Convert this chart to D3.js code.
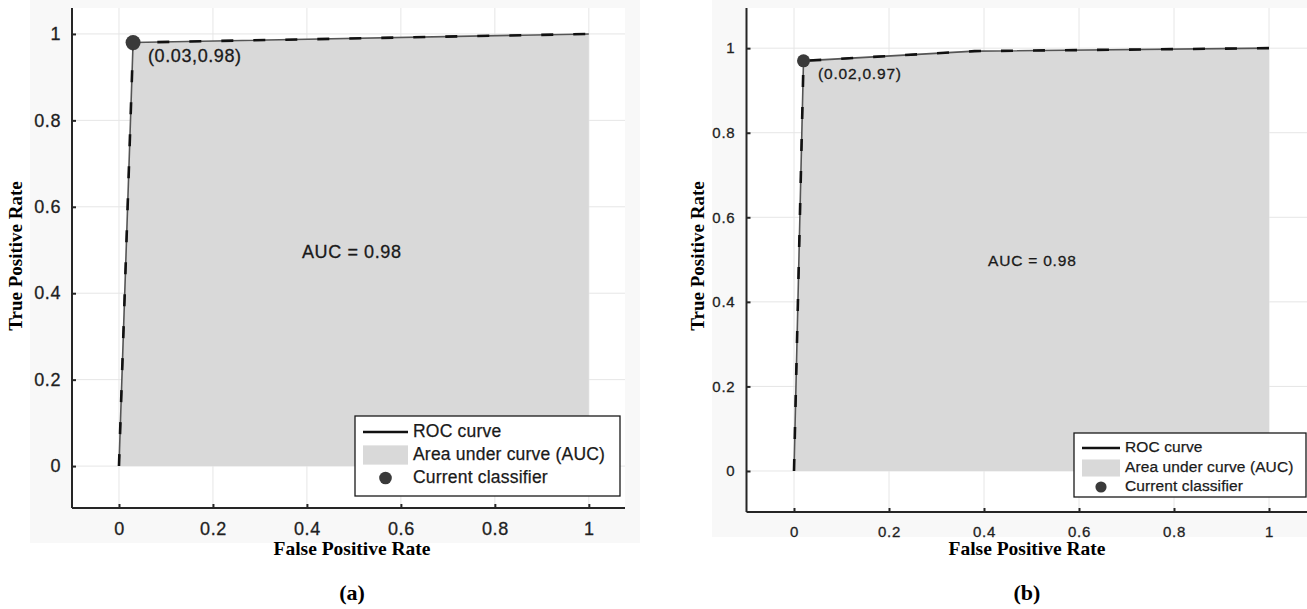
<!DOCTYPE html>
<html>
<head>
<meta charset="utf-8">
<script src="https://cdn.jsdelivr.net/npm/d3@7"></script>
<style>
  body { margin: 0; background: #fff; }
  svg { display: block; }
</style>
</head>
<body>
<svg id="chart" width="1307" height="609"></svg>
<script>
// values
const tickValues = [0, 0.2, 0.4, 0.6, 0.8, 1];
const rocA_fpr = [0, 0.03, 1];
const rocA_tpr = [0, 0.98, 1];
const rocB_fpr = [0, 0.02, 0.38, 1];
const rocB_tpr = [0, 0.97, 0.993, 1];
const classifierA = [0.03, 0.98];
const classifierB = [0.02, 0.97];
const aucValues = [0.98, 0.98];
const legendLabels = ["ROC curve", "Area under curve (AUC)", "Current classifier"];
const panelLabels = ["(a)", "(b)"];

const svg = d3.select("#chart");
const SANS = "Liberation Sans, Arial, sans-serif";
const SERIF = "Liberation Serif, Times New Roman, serif";

const panels = [
  {
    fpr: rocA_fpr, tpr: rocA_tpr, cls: classifierA, auc: aucValues[0], tag: panelLabels[0],
    xRange: [72, 625], xDom: [-0.1, 1.077], yRange: [508, 8], yDom: [-0.097, 1.06],
    bg: [30, 0, 610, 543], tickFont: 18, ls: 0.6, textFont: 18, yLabelX: 18, center: 352,
    clsLabel: [148, 57], aucPos: [302, 253], dotR: 7.5,
    legend: { x: 355, y: 416, w: 265, h: 80, font: 17.5, ls: 0.2, sw: 45, rows: [16, 39, 62] }
  },
  {
    fpr: rocB_fpr, tpr: rocB_tpr, cls: classifierB, auc: aucValues[1], tag: panelLabels[1],
    xRange: [746.5, 1307], xDom: [-0.1, 1.08], yRange: [512, 8], yDom: [-0.097, 1.095],
    bg: [712, 0, 595, 537], tickFont: 15, ls: 0.8, textFont: 15.5, yLabelX: 700, center: 1027,
    clsLabel: [818, 75], aucPos: [988, 262], dotR: 6.5,
    legend: { x: 1074, y: 433, w: 232, h: 64, font: 15.5, ls: 0.1, sw: 38, rows: [15, 35, 54] }
  }
];

panels.forEach(p => {
  const g = svg.append("g");

  g.append("rect")
    .attr("x", p.bg[0]).attr("y", p.bg[1])
    .attr("width", p.bg[2]).attr("height", p.bg[3])
    .attr("fill", "#f8f8f8");

  const x = d3.scaleLinear().domain(p.xDom).range(p.xRange);
  const y = d3.scaleLinear().domain(p.yDom).range(p.yRange);

  g.append("rect")
    .attr("x", p.xRange[0]).attr("y", p.yRange[1])
    .attr("width", p.xRange[1] - p.xRange[0])
    .attr("height", p.yRange[0] - p.yRange[1])
    .attr("fill", "#fff");

  // grid
  g.selectAll(".vgrid").data(tickValues).enter().append("line")
    .attr("x1", d => x(d)).attr("x2", d => x(d))
    .attr("y1", p.yRange[0]).attr("y2", p.yRange[1])
    .attr("stroke", "#e6e6e6").attr("stroke-width", 1);
  g.selectAll(".hgrid").data(tickValues).enter().append("line")
    .attr("y1", d => y(d)).attr("y2", d => y(d))
    .attr("x1", p.xRange[0]).attr("x2", p.xRange[1])
    .attr("stroke", "#e6e6e6").attr("stroke-width", 1);

  const pts = p.fpr.map((f, i) => [f, p.tpr[i]]);

  // area under curve
  const area = d3.area()
    .x(d => x(d[0])).y0(y(0)).y1(d => y(d[1]));
  g.append("path").datum(pts)
    .attr("d", area)
    .attr("fill", "#d9d9d9");

  // roc curve: thin grey line with sparse dark dashes
  const line = d3.line().x(d => x(d[0])).y(d => y(d[1]));
  g.append("path").datum(pts)
    .attr("d", line)
    .attr("fill", "none").attr("stroke", "#555").attr("stroke-width", 1.6);
  g.append("path").datum(pts)
    .attr("d", line)
    .attr("fill", "none").attr("stroke", "#111").attr("stroke-width", 2.6)
    .attr("stroke-dasharray", "12,20");

  // axes
  const fmt = d => d === 0 || d === 1 ? String(d) : d.toFixed(1);
  const xAxis = g.append("g")
    .attr("transform", "translate(0," + p.yRange[0] + ")")
    .call(d3.axisBottom(x).tickValues(tickValues).tickFormat(fmt).tickSize(-4).tickPadding(14));
  const yAxis = g.append("g")
    .attr("transform", "translate(" + p.xRange[0] + ",0)")
    .call(d3.axisLeft(y).tickValues(tickValues).tickFormat(fmt).tickSize(-4).tickPadding(11));
  [xAxis, yAxis].forEach(a => {
    a.select(".domain").attr("stroke", "#262626").attr("stroke-width", 2)
      .attr("d", a === xAxis
        ? "M" + p.xRange[0] + ",0H" + p.xRange[1]
        : "M0," + p.yRange[0] + "V" + p.yRange[1]);
    a.selectAll(".tick line").attr("stroke", "#262626").attr("stroke-width", 2);
    a.selectAll(".tick text")
      .attr("fill", "#1f1f1f")
      .attr("stroke", "#1f1f1f").attr("stroke-width", 0.3)
      .style("font-family", SANS)
      .style("letter-spacing", p.ls + "px")
      .style("font-size", p.tickFont + "px");
  });

  // classifier point
  g.append("circle")
    .attr("cx", x(p.cls[0])).attr("cy", y(p.cls[1]))
    .attr("r", p.dotR).attr("fill", "#3a3a3a");
  g.append("text")
    .attr("x", p.clsLabel[0]).attr("y", p.clsLabel[1])
    .attr("dominant-baseline", "middle")
    .style("font-family", SANS)
    .style("font-size", p.textFont + "px")
    .style("letter-spacing", p.ls + "px")
    .attr("fill", "#1a1a1a").attr("stroke", "#1a1a1a").attr("stroke-width", 0.3)
    .text("(" + p.cls[0].toFixed(2) + "," + p.cls[1].toFixed(2) + ")");

  g.append("text")
    .attr("x", p.aucPos[0]).attr("y", p.aucPos[1])
    .attr("dominant-baseline", "middle")
    .style("font-family", SANS)
    .style("font-size", p.textFont + "px")
    .style("letter-spacing", p.ls + "px")
    .attr("fill", "#1a1a1a").attr("stroke", "#1a1a1a").attr("stroke-width", 0.3)
    .text("AUC = " + p.auc.toFixed(2));

  // axis titles
  g.append("text")
    .attr("transform", "translate(" + p.yLabelX + "," + 256 + ") rotate(-90)")
    .attr("text-anchor", "middle").attr("dominant-baseline", "middle")
    .style("font-family", SERIF)
    .style("font-weight", "bold").style("font-size", "19px")
    .text("True Positive Rate");
  g.append("text")
    .attr("x", p.center).attr("y", 551)
    .attr("text-anchor", "middle").attr("dominant-baseline", "middle")
    .style("font-family", SERIF)
    .style("font-weight", "bold").style("font-size", "19.5px")
    .text("False Positive Rate");
  svg.append("text")
    .attr("x", p.center).attr("y", 595)
    .attr("text-anchor", "middle").attr("dominant-baseline", "middle")
    .style("font-family", SERIF)
    .style("font-weight", "bold").style("font-size", "22px")
    .text(p.tag);

  // legend
  const L = p.legend;
  const lg = g.append("g").attr("transform", "translate(" + L.x + "," + L.y + ")");
  lg.append("rect").attr("width", L.w).attr("height", L.h)
    .attr("fill", "#fff").attr("stroke", "#1a1a1a").attr("stroke-width", 1.3);
  const sx = 8, tx = sx + L.sw + 5;
  lg.append("line").attr("x1", sx).attr("x2", sx + L.sw)
    .attr("y1", L.rows[0]).attr("y2", L.rows[0])
    .attr("stroke", "#111").attr("stroke-width", 2.6);
  lg.append("rect").attr("x", sx).attr("y", L.rows[1] - L.font * 0.55)
    .attr("width", L.sw).attr("height", L.font * 1.1).attr("fill", "#d9d9d9");
  lg.append("circle").attr("cx", sx + L.sw / 2).attr("cy", L.rows[2])
    .attr("r", L.font * 0.36).attr("fill", "#3a3a3a");
  lg.selectAll(".lt").data(legendLabels).enter().append("text")
    .attr("x", tx).attr("y", (d, i) => L.rows[i])
    .attr("dominant-baseline", "middle")
    .style("font-family", SANS)
    .style("font-size", L.font + "px")
    .style("letter-spacing", L.ls + "px")
    .attr("fill", "#1a1a1a").attr("stroke", "#1a1a1a").attr("stroke-width", 0.25)
    .text(d => d);
});
</script>
</body>
</html>
